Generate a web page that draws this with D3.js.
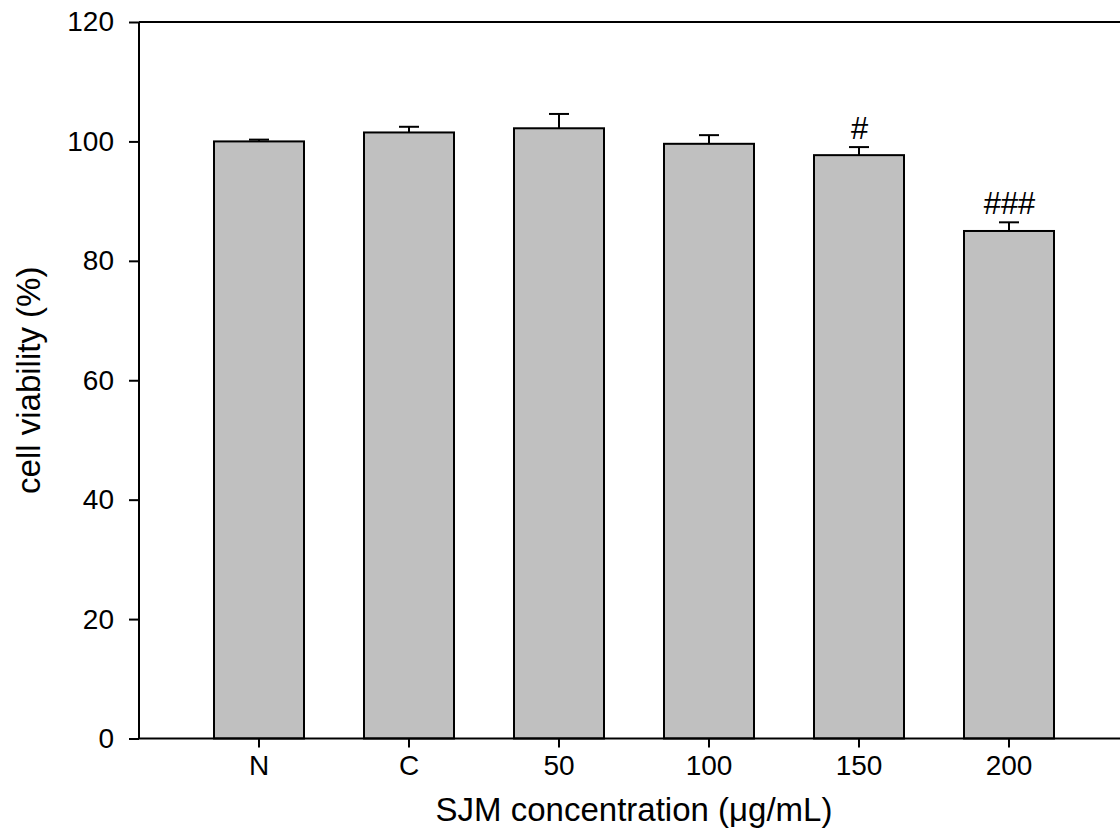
<!DOCTYPE html>
<html>
<head>
<meta charset="utf-8">
<script src="https://cdn.jsdelivr.net/npm/d3@7"></script>
<style>
    body { margin: 0; background: #fff; }
    svg { display: block; font-family: Arial, "Liberation Sans", sans-serif; }
</style>
</head>
<body>
<div id="chart"></div>
<script>
// data
const groups = ["N", "C", "50", "100", "150", "200"];
const viability = [100.0, 101.5, 102.2, 99.6, 97.7, 85.0];
const sem = [0.3, 0.95, 2.4, 1.45, 1.35, 1.45];
const marks = ["", "", "", "", "#", "###"];
const yTicks = [0, 20, 40, 60, 80, 100, 120];

const width = 1120, height = 831;
const margin = { top: 22, right: -9, bottom: 92.5, left: 139 };
const plotW = width - margin.left - margin.right;
const plotH = height - margin.top - margin.bottom;

const svg = d3.select("#chart").append("svg")
    .attr("width", width)
    .attr("height", height);

const g = svg.append("g")
    .attr("transform", `translate(${margin.left},${margin.top})`);

const x = d3.scaleBand()
    .domain(groups)
    .range([0, plotW])
    .paddingInner(0.4)
    .paddingOuter(0.5);

const y = d3.scaleLinear()
    .domain([0, 120])
    .range([plotH, 0]);

// frame (top + right); right side falls just outside the canvas
g.append("path")
    .attr("d", `M0,0H${plotW}V${plotH}`)
    .attr("fill", "none")
    .attr("stroke", "#000")
    .attr("stroke-width", 2);

// bars
g.selectAll(".bar")
    .data(groups)
    .join("rect")
    .attr("class", "bar")
    .attr("x", d => x(d))
    .attr("y", (d, i) => y(viability[i]))
    .attr("width", x.bandwidth())
    .attr("height", (d, i) => y(0) - y(viability[i]))
    .attr("fill", "#c0c0c0")
    .attr("stroke", "#000")
    .attr("stroke-width", 2);

// error bars (upper only)
const err = g.selectAll(".err")
    .data(groups)
    .join("g")
    .attr("class", "err")
    .attr("transform", d => `translate(${x(d) + x.bandwidth() / 2},0)`);

err.append("line")
    .attr("y1", (d, i) => y(viability[i]))
    .attr("y2", (d, i) => y(viability[i] + sem[i]))
    .attr("stroke", "#000")
    .attr("stroke-width", 2);

err.append("line")
    .attr("x1", -10)
    .attr("x2", 10)
    .attr("y1", (d, i) => y(viability[i] + sem[i]))
    .attr("y2", (d, i) => y(viability[i] + sem[i]))
    .attr("stroke", "#000")
    .attr("stroke-width", 2);

// significance marks
err.append("text")
    .attr("y", (d, i) => y(viability[i] + sem[i]) - 8)
    .attr("text-anchor", "middle")
    .style("font-size", "31px")
    .style("font-style", "italic")
    .text((d, i) => marks[i]);

// axes
const yAxis = g.append("g")
    .call(d3.axisLeft(y).tickValues(yTicks).tickSize(10).tickPadding(15));

const xAxis = g.append("g")
    .attr("transform", `translate(0,${plotH})`)
    .call(d3.axisBottom(x).tickSize(9).tickPadding(8));

[yAxis, xAxis].forEach(ax => {
    ax.select(".domain").attr("stroke-width", 2);
    ax.selectAll(".tick line").attr("stroke-width", 2);
    ax.selectAll(".tick text")
        .attr("fill", "#000")
        .style("font-size", "28px")
        .style("font-family", "Arial, 'Liberation Sans', sans-serif");
});
// keep the bottom axis running to the frame's right side
xAxis.select(".domain").attr("d", `M0,0H${plotW}`);
yAxis.select(".domain").attr("d", `M0,0V${plotH}`);

// axis titles
svg.append("text")
    .attr("x", margin.left + plotW / 2)
    .attr("y", 821)
    .attr("text-anchor", "middle")
    .style("font-size", "33px")
    .text("SJM concentration (\u03bcg/mL)");

svg.append("text")
    .attr("transform", `translate(40,${margin.top + plotH / 2}) rotate(-90)`)
    .attr("text-anchor", "middle")
    .style("font-size", "33px")
    .text("cell viability (%)");
</script>
</body>
</html>
